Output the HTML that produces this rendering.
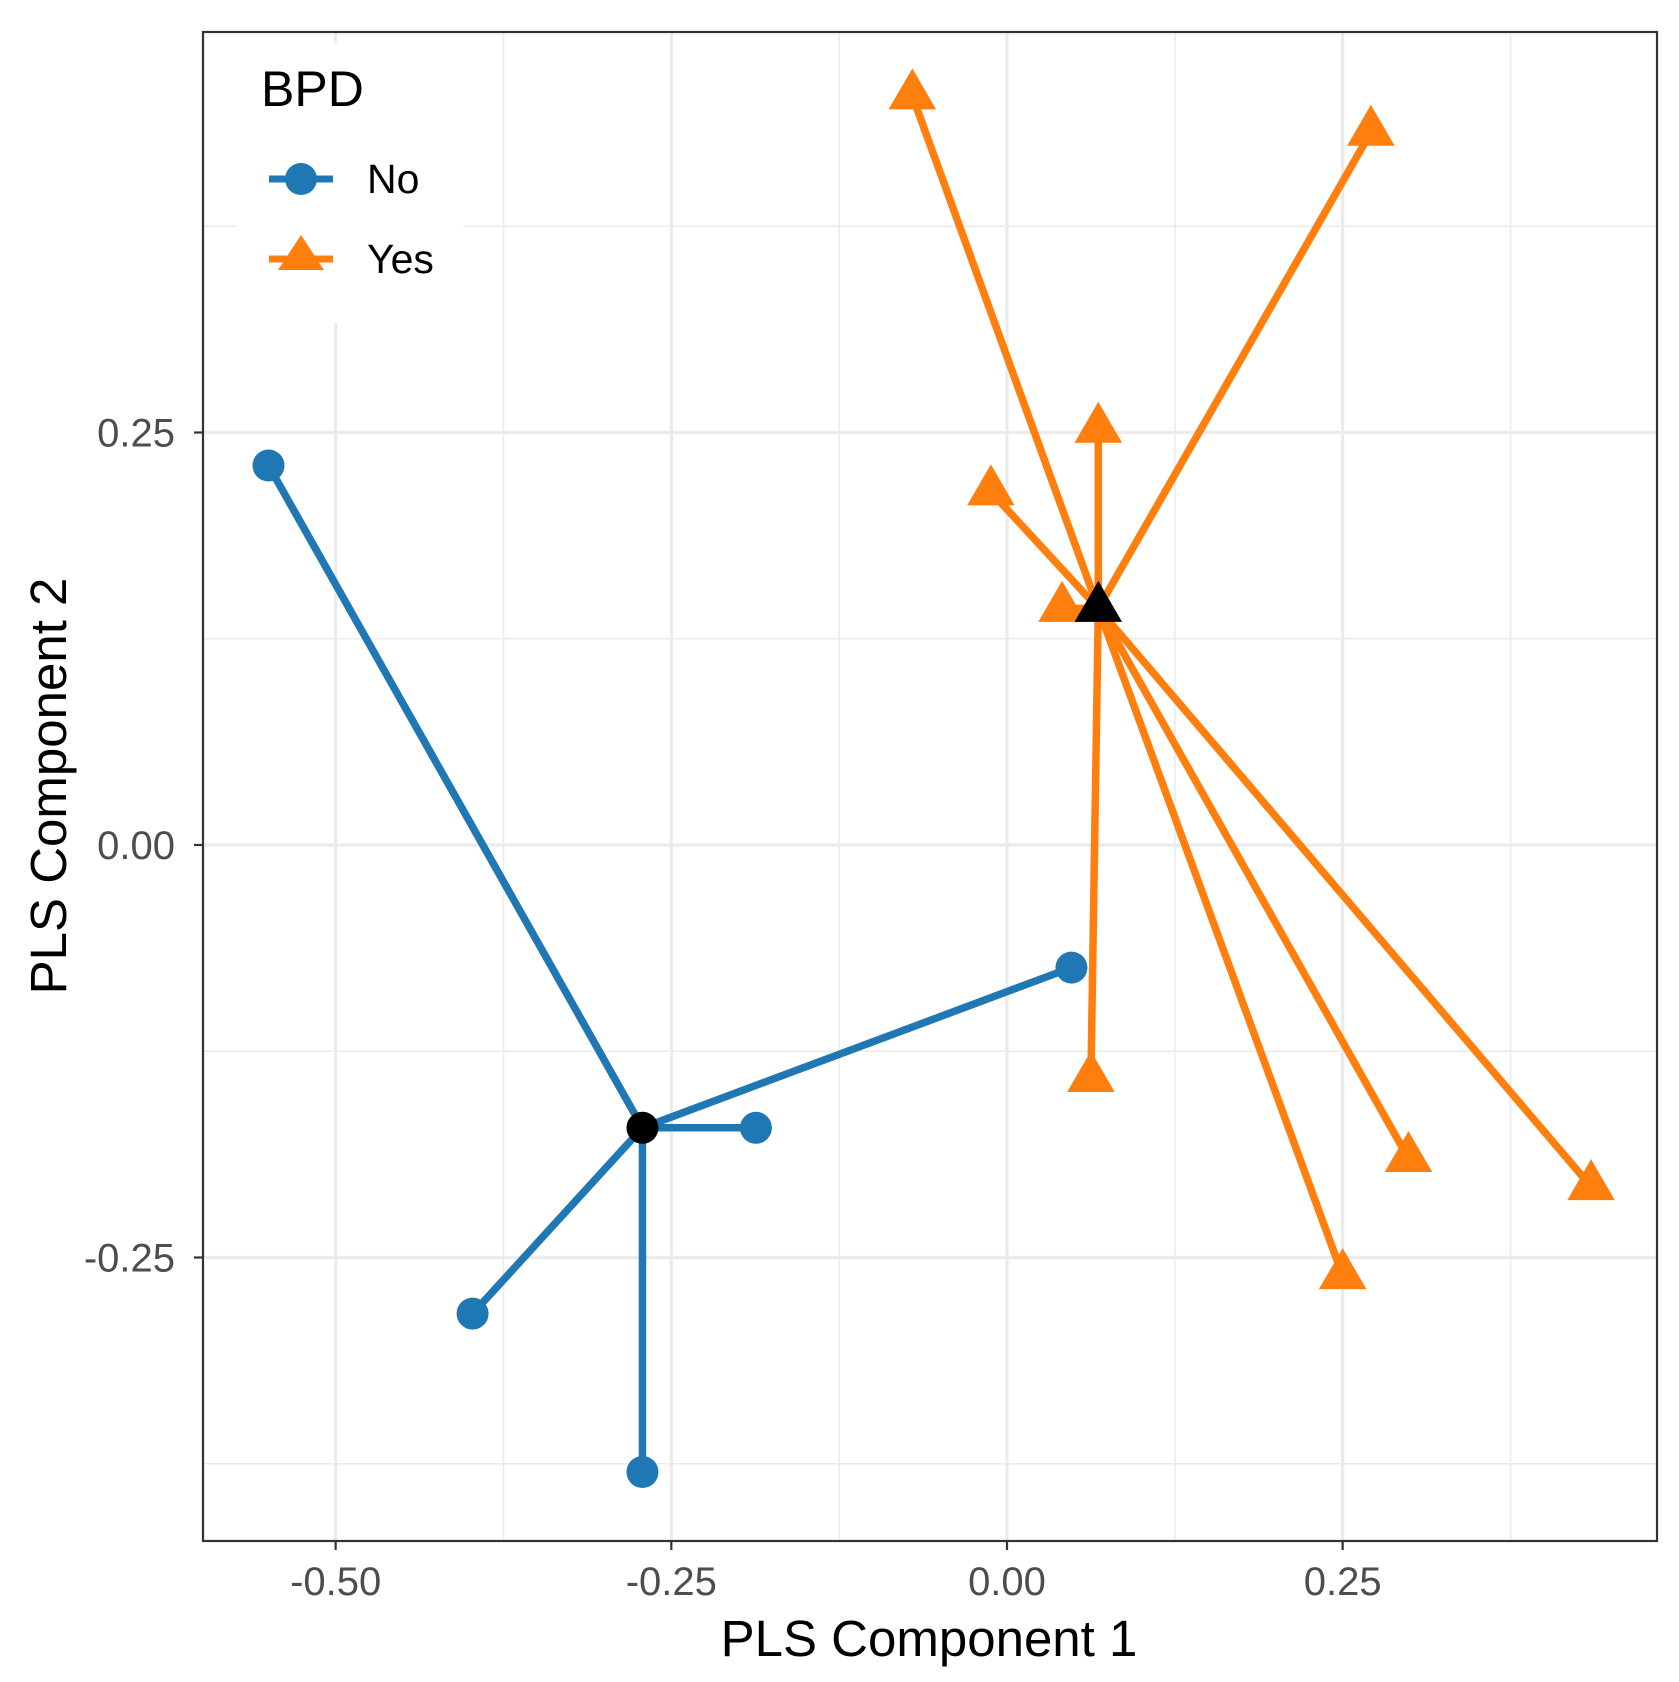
<!DOCTYPE html>
<html><head><meta charset="utf-8"><style>
html,body{margin:0;padding:0;background:#fff}
svg{display:block;font-family:"Liberation Sans",Arial,sans-serif}
</style></head><body>
<svg id="chart" width="1679" height="1682" viewBox="0 0 1679 1682">
<g id="grid"></g>
<g id="series"></g>
<rect x="237" y="43" width="226" height="280" fill="#fff"/>
<rect x="203" y="32" width="1454" height="1509" fill="none" stroke="#333" stroke-width="2.2"/>
<g id="axes"></g>
<text x="929" y="1656" font-size="51" text-anchor="middle" fill="#000">PLS Component 1</text>
<text transform="translate(66,786) rotate(-90)" font-size="51" text-anchor="middle" fill="#000">PLS Component 2</text>
<g>
<text x="261" y="106" font-size="50" fill="#000">BPD</text>
<g>
<line x1="269" y1="179" x2="333" y2="179" stroke="#1f77b4" stroke-width="7"/>
<circle cx="301" cy="179" r="16" fill="#1f77b4"/>
<text x="367" y="193" font-size="41" fill="#000">No</text></g>
<g>
<line x1="269" y1="259" x2="333" y2="259" stroke="#ff7f0e" stroke-width="7"/>
<polygon points="301,235 324,270 278,270" fill="#ff7f0e"/>
<text x="367" y="273" font-size="41" fill="#000">Yes</text></g>
</g>
</svg>
<script>
const noX=[-0.550,0.048,-0.187,-0.398,-0.2715];
const noY=[0.230,-0.0743,-0.1714,-0.284,-0.380];
const noCentroid=[-0.2715,-0.1714];
const yesX=[-0.0705,0.271,0.068,-0.012,0.041,0.0625,0.299,0.435,0.250];
const yesY=[0.454,0.432,0.252,0.214,0.1434,-0.1415,-0.190,-0.207,-0.261];
const yesCentroid=[0.068,0.1434];
const xTicks=[-0.5,-0.25,0,0.25];
const xTickLabels=["-0.50","-0.25","0.00","0.25"];
const yTicks=[0.25,0,-0.25];
const yTickLabels=["0.25","0.00","-0.25"];
const xMinor=[-0.375,-0.125,0.125,0.375];
const yMinor=[0.375,0.125,-0.125,-0.375];

const L=203,T=32,R=1657,B=1541;
const sx=v=>1007+v*1342.7;
const sy=v=>845-v*1650;
const NS='http://www.w3.org/2000/svg';
function mk(tag,attrs,parent){const e=document.createElementNS(NS,tag);for(const k in attrs)e.setAttribute(k,attrs[k]);parent.appendChild(e);return e;}
const grid=document.getElementById('grid'),series=document.getElementById('series'),axes=document.getElementById('axes');
mk('rect',{x:L,y:T,width:R-L,height:B-T,fill:'#fff'},grid);
xMinor.forEach(v=>{const e=mk('line',{x1:sx(v),x2:sx(v),y1:T,y2:B,stroke:'#ebebeb','stroke-width':1.6},grid);

});
yMinor.forEach(v=>{const e=mk('line',{x1:L,x2:R,y1:sy(v),y2:sy(v),stroke:'#ebebeb','stroke-width':1.6},grid);

});
xTicks.forEach((v,i)=>{const e=mk('line',{x1:sx(v),x2:sx(v),y1:T,y2:B,stroke:'#ebebeb','stroke-width':3.2},grid);


mk('line',{x1:sx(v),x2:sx(v),y1:B,y2:B+9,stroke:'#333','stroke-width':2.2},axes);
const t=mk('text',{x:sx(v),y:1595,'font-size':40,'text-anchor':'middle',fill:'#4d4d4d'},axes);t.textContent=xTickLabels[i];

});
yTicks.forEach((v,i)=>{const e=mk('line',{x1:L,x2:R,y1:sy(v),y2:sy(v),stroke:'#ebebeb','stroke-width':3.2},grid);


mk('line',{x1:L-9,x2:L,y1:sy(v),y2:sy(v),stroke:'#333','stroke-width':2.2},axes);
const t=mk('text',{x:175,y:sy(v)+14,'font-size':40,'text-anchor':'end',fill:'#4d4d4d'},axes);t.textContent=yTickLabels[i];

});
function tri(cx,cy,s,fill){return mk('polygon',{points:`${cx},${cy-s*0.67} ${cx+s*0.58},${cy+s*0.33} ${cx-s*0.58},${cy+s*0.33}`,fill:fill},series);}
function group(xs,ys,c,color,shape,nm){
 xs.forEach((v,i)=>{const e=mk('line',{x1:sx(c[0]),y1:sy(c[1]),x2:sx(v),y2:sy(ys[i]),stroke:color,'stroke-width':7.5},series);
 
 });
 xs.forEach((v,i)=>{let e;if(shape==='c')e=mk('circle',{cx:sx(v),cy:sy(ys[i]),r:16,fill:color},series);else e=tri(sx(v),sy(ys[i]),41,color);
 
 });
}
group(noX,noY,noCentroid,'#1f77b4','c','no');
group(yesX,yesY,yesCentroid,'#ff7f0e','t','yes');
let c1=mk('circle',{cx:sx(noCentroid[0]),cy:sy(noCentroid[1]),r:16,fill:'#000'},series);


let c2=tri(sx(yesCentroid[0]),sy(yesCentroid[1]),41,'#000');


</script>
</body></html>
